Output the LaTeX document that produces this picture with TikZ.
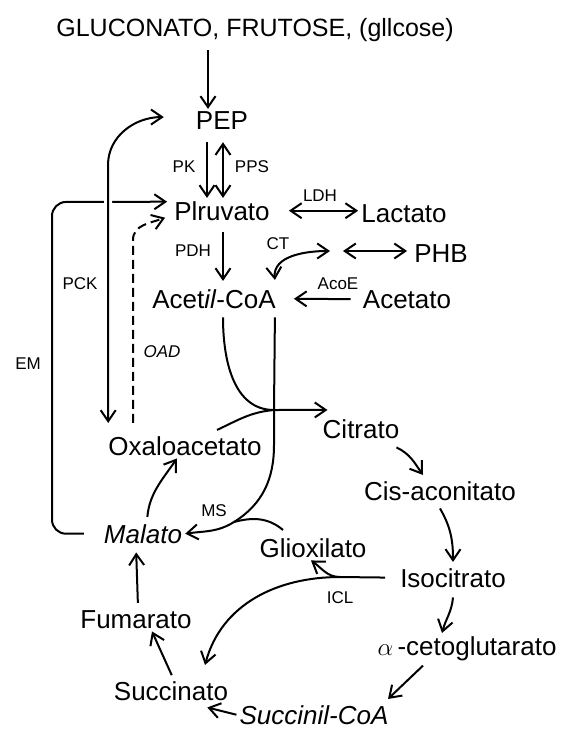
\documentclass[tikz,border=0pt]{standalone}
\usepackage{fontspec}
\setmainfont{Liberation Sans}
\usetikzlibrary{arrows.meta}

\begin{document}
\begin{tikzpicture}[x=1pt, y=-1pt, >={Straight Barb[length=11pt,width=15pt]},
    met/.style={font=\fontsize{26}{30}\selectfont, inner sep=3pt, anchor=base},
    enz/.style={font=\fontsize{17}{20}\selectfont, inner sep=1pt},
    flux/.style={line width=2pt},
    hop/.style={preaction={draw=white, line width=8pt, -}}]
    \useasboundingbox (0,0) rectangle (561,730);

    % Metabolites
    \node[met, font=\fontsize{25}{30}\selectfont] (src) at (255,37) {GLUCONATO, FRUTOSE, (gllcose)};
    \node[met] (pep) at (222,130) {PEP};
    \node[met] (pir) at (222,220) {Plruvato};
    \node[met] (lac) at (404,222) {Lactato};
    \node[met] (phb) at (441,262) {PHB};
    \node[met] (acoa) at (214,308) {Acet\textit{il}-CoA};
    \node[met] (acet) at (407,308) {Acetato};
    \node[met] (cit) at (361,438) {Citrato};
    \node[met] (oxa) at (185,455) {Oxaloacetato};
    \node[met] (cis) at (440,500) {Cis-aconitato};
    \node[met] (mal) at (143,543) {\itshape Malato};
    \node[met] (gli) at (313,557) {Glioxilato};
    \node[met] (iso) at (453,587) {Isocitrato};
    \node[met] (fum) at (136,628) {Fumarato};
    \node[met] (ceto) at (467,655) {$\alpha$\,-cetoglutarato};
    \node[met] (suc) at (171,700) {Succinato};
    \node[met] (scoa) at (314,724) {\itshape Succinil-CoA};

    % Branch points
    \coordinate (hb) at (337,251);
    \coordinate (J) at (274,410);
    \coordinate (K) at (234,522);
    \coordinate (L) at (340,577);

    % Upper part
    \draw[flux, ->, shorten <=5pt] ([xshift=-47pt]src.south) -- ([xshift=-14pt]pep.north);
    \draw[flux, ->, shorten <=9pt] ([xshift=-15pt]pep.south) -- ([xshift=-15pt]pir.north);
    \draw[flux, <->, shorten <=9pt] ([xshift=1pt]pep.south) -- ([xshift=1pt]pir.north);
    \draw[flux, <->, shorten <=16pt] (pir.east) -- (pir.east -| lac.west);
    \draw[flux, <->, shorten <=6pt, shorten >=4pt] (hb) -- (hb -| phb.west);
    \draw[flux, <->] ([xshift=-4pt,yshift=6pt]acoa.north east) to[out=95,in=180] ([xshift=-7pt]hb);
    \draw[flux, ->, shorten <=9pt, shorten >=15pt] (acet.west) -- (acoa.east);
    \draw[flux, ->, shorten <=9pt, shorten >=5pt] ([xshift=1pt]pir.south) -- ([xshift=1pt]pir.south |- acoa.north);

    % Citrate cycle
    \draw[flux] ([xshift=9pt,yshift=-6pt]acoa.south) to[out=-90,in=180] (J);
    \draw[flux] ([xshift=32pt,yshift=3pt]oxa.north) to[out=25,in=185] (J);
    \draw[flux, ->] (J) -- ([xshift=8pt,yshift=6pt]cit.north west);
    \draw[flux, ->] ([xshift=-4pt,yshift=-6pt]acoa.south east) -- (J) -- ++(0,35)
        to[out=-90,in=32] (K) to[out=212,in=8] (mal.east);
    \draw[flux] ([xshift=-30pt,yshift=5pt]gli.north) to[out=140,in=15] (K);
    \draw[flux, ->] ([xshift=-6pt,yshift=-6pt]cit.south east) to[out=-25,in=125] ([xshift=-17pt,yshift=3pt]cis.north);
    \draw[flux, ->] ([yshift=-5pt]cis.south) to[out=-60,in=90] ([yshift=3pt]iso.north);
    \draw[flux, shorten <=12pt] (iso.west) -- (L);
    \draw[flux, ->] (L) to[out=180,in=-35] ([xshift=-2pt]gli.south);
    \draw[flux, ->] (L) to[out=180,in=75] ([xshift=34pt,yshift=13pt]suc.north);
    \draw[flux, ->] ([yshift=-7pt]iso.south) to[out=-95,in=75] ([xshift=-25pt]ceto.north);
    \draw[flux, ->] ([xshift=-44pt,yshift=-2pt]ceto.south) -- ([xshift=74pt,yshift=3pt]scoa.north);
    \draw[flux, ->] (scoa.west) -- ([xshift=-24pt,yshift=-4pt]suc.south east);
    \draw[flux, ->, shorten <=3pt] ([xshift=2pt]suc.north) -- ([xshift=16pt]fum.south);
    \draw[flux, ->, shorten <=4pt, shorten >=6pt] ([xshift=2pt]fum.north) -- ([xshift=-7pt]mal.south);
    \draw[flux, ->, shorten <=4pt] ([xshift=4pt]mal.north) to[out=85,in=235] ([xshift=-8pt]oxa.south);

    % Anaplerotic routes
    \draw[flux, ->, rounded corners=14pt] ([xshift=-17pt]mal.west) -| (52,202) -- ([xshift=-4pt,yshift=9pt]pir.west);
    \draw[flux, <->, hop] ([xshift=-29pt,yshift=4pt]pep.west) to[out=180,in=90] (108,165)
        -- ([xshift=3pt,yshift=10pt]oxa.north west);
    \draw[flux, ->, dash pattern=on 9pt off 5pt] ([xshift=28pt,yshift=10pt]oxa.north west) -- (133,240)
        to[out=90,in=200] ([xshift=-6pt,yshift=-7pt]pir.west);

    % Enzymes
    \node[enz] (pk) at (184,167) {PK};
    \node[enz] (pps) at (252,167) {PPS};
    \node[enz] (pdh) at (193,251) {PDH};
    \node[enz] (ldh) at (320,196) {LDH};
    \node[enz] (ct) at (278,244) {CT};
    \node[enz] (acoe) at (338,284) {AcoE};
    \node[enz] (pck) at (80,284) {PCK};
    \node[enz] (em) at (28,364) {EM};
    \node[enz] (oad) at (162,352) {\itshape OAD};
    \node[enz] (ms) at (214,511) {MS};
    \node[enz] (icl) at (340,598) {ICL};
\end{tikzpicture}
\end{document}
